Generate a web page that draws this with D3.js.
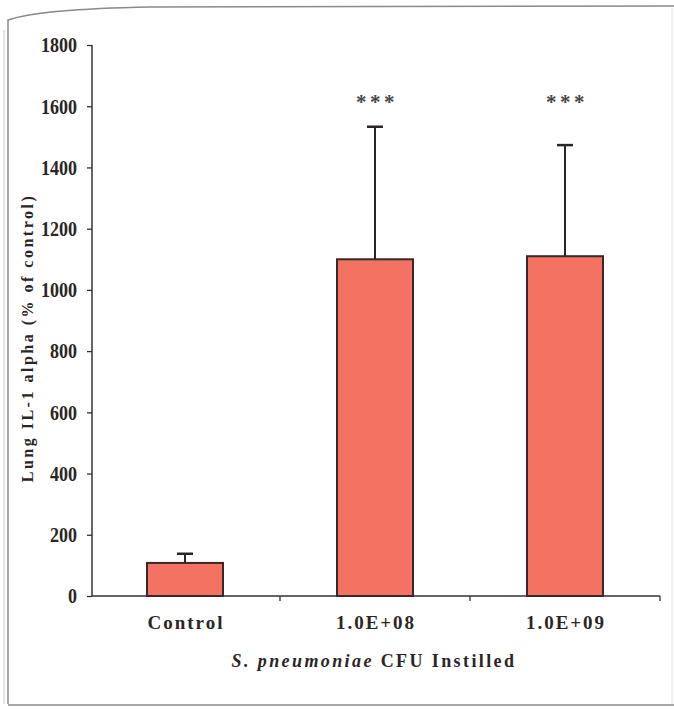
<!DOCTYPE html>
<html>
<head>
<meta charset="utf-8">
<script src="https://cdn.jsdelivr.net/npm/d3@7"></script>
<style>
  html, body { margin: 0; padding: 0; background: #fff; }
  svg { display: block; }
  svg text { font-family: "Liberation Serif", "Times New Roman", Times, "DejaVu Serif", serif !important; font-weight: bold; fill: #2b2626; }
</style>
</head>
<body>
<svg id="chart" width="674" height="709"></svg>
<script>
// ---- data ----
const categories = ["Control", "1.0E+08", "1.0E+09"];
const means = [108, 1100, 1110];
const errors = [30, 433, 363];          // upper error bar
const significance = ["", "***", "***"];
const yTicks = [0, 200, 400, 600, 800, 1000, 1200, 1400, 1600, 1800];
const yTitle = "Lung IL-1 alpha (% of control)";
const xTitleItalic = "S. pneumoniae";
const xTitleRest = " CFU Instilled";

const svg = d3.select("#chart");

// page frame (scan border)
svg.append("path")
  .attr("d", "M8,704 L8,20 Q40,9 150,7 L674,6")
  .attr("fill", "none").attr("stroke", "#8a8a8a").attr("stroke-width", 1.5);
svg.append("path")
  .attr("d", "M4,704 L4,30")
  .attr("fill", "none").attr("stroke", "#c8c8c8").attr("stroke-width", 1);
svg.append("line").attr("x1", 672).attr("x2", 672).attr("y1", 8).attr("y2", 704)
  .attr("stroke", "#e0e0e0").attr("stroke-width", 1);
svg.append("line").attr("x1", 8).attr("x2", 674).attr("y1", 705).attr("y2", 705)
  .attr("stroke", "#8a8a8a").attr("stroke-width", 1.5);

const axisX0 = 92;
const y = d3.scaleLinear().domain([0, 1800]).range([596, 45]);
const x = d3.scaleBand().domain(categories).range([90, 660]).paddingInner(0.6).paddingOuter(0.3);
const step = x.step();

// y axis
const sx = 0.9;
const yAxis = d3.axisLeft(y).tickValues(yTicks).tickSize(5).tickPadding(10).tickFormat(d3.format("d"));
const gy = svg.append("g").attr("transform", `translate(${axisX0},0)`).call(yAxis);
gy.attr("font-family", null);
gy.select(".domain").attr("stroke", "#333").attr("stroke-width", 1.5).attr("d", `M0,${y(1800)}V${y(0)}`);
gy.selectAll(".tick line").attr("stroke", "#333").attr("stroke-width", 1.3);
gy.selectAll(".tick text").attr("font-size", 20).attr("dy", "0.34em")
  .attr("x", -15 / sx).attr("transform", `scale(${sx},1)`);

// x axis line and boundary ticks
const gx = svg.append("g");
gx.append("line").attr("x1", axisX0).attr("x2", x.range()[1]).attr("y1", y(0)).attr("y2", y(0))
  .attr("stroke", "#333").attr("stroke-width", 1.5);
gx.selectAll(".bt").data(categories).enter().append("line")
  .attr("x1", d => x(d) - step * x.paddingOuter() + step)
  .attr("x2", d => x(d) - step * x.paddingOuter() + step)
  .attr("y1", y(0)).attr("y2", y(0) + 5)
  .attr("stroke", "#333").attr("stroke-width", 1.3);

// x labels
gx.selectAll(".xl").data(categories).enter().append("text")
  .attr("x", d => x(d) + x.bandwidth() / 2 + 1)
  .attr("y", 629)
  .attr("text-anchor", "middle")
  .attr("font-size", 19).attr("letter-spacing", 2)
  .text(d => d);

// bars
svg.selectAll(".bar").data(categories).enter().append("rect")
  .attr("x", d => x(d))
  .attr("width", x.bandwidth())
  .attr("y", (d, i) => y(means[i]))
  .attr("height", (d, i) => y(0) - y(means[i]))
  .attr("fill", "#f47262").attr("stroke", "#3a2828").attr("stroke-width", 2);

// error bars
const cap = 8;
const eb = svg.selectAll(".eb").data(categories).enter().append("g");
eb.append("line")
  .attr("x1", d => x(d) + x.bandwidth() / 2).attr("x2", d => x(d) + x.bandwidth() / 2)
  .attr("y1", (d, i) => y(means[i])).attr("y2", (d, i) => y(means[i] + errors[i]))
  .attr("stroke", "#2b2626").attr("stroke-width", 2);
eb.append("line")
  .attr("x1", d => x(d) + x.bandwidth() / 2 - cap).attr("x2", d => x(d) + x.bandwidth() / 2 + cap)
  .attr("y1", (d, i) => y(means[i] + errors[i])).attr("y2", (d, i) => y(means[i] + errors[i]))
  .attr("stroke", "#2b2626").attr("stroke-width", 2.5);

// significance stars
svg.selectAll(".sig").data(categories).enter().append("text")
  .attr("x", d => x(d) + x.bandwidth() / 2 + 2)
  .attr("y", 109)
  .attr("text-anchor", "middle")
  .attr("font-size", 21).attr("letter-spacing", 3.5)
  .style("fill", "#4a4545")
  .text((d, i) => significance[i]);

// y title
svg.append("text")
  .attr("transform", "translate(33,338) rotate(-90)")
  .attr("text-anchor", "middle")
  .attr("font-size", 16).attr("letter-spacing", 2.5)
  .text(yTitle);

// x title
const xt = svg.append("text")
  .attr("x", 374).attr("y", 667)
  .attr("text-anchor", "middle")
  .attr("font-size", 18).attr("letter-spacing", 2.4);
xt.append("tspan").attr("font-style", "italic").text(xTitleItalic);
xt.append("tspan").text(xTitleRest);
</script>
</body>
</html>
